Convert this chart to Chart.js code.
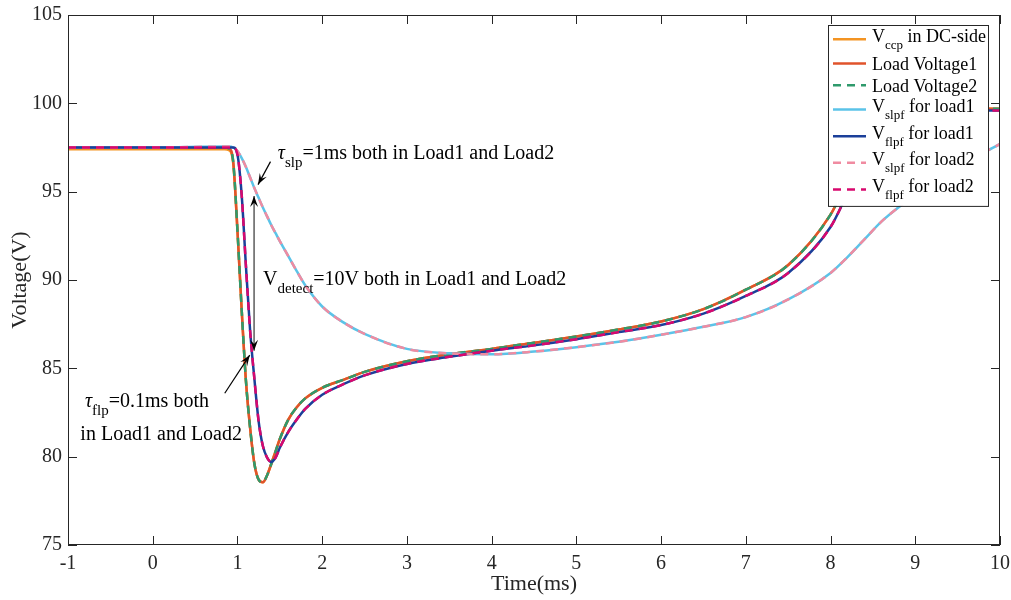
<!DOCTYPE html>
<html>
<head>
<meta charset="utf-8">
<title>DC-side voltage detection</title>
<script src="https://cdn.jsdelivr.net/npm/chart.js@4"></script>
<style>
  body { margin: 0; background: #fff; }
  canvas { display: block; }
</style>
</head>
<body>
<canvas id="voltageChart" width="1011" height="600"></canvas>
<script>
// sample times (ms)
const timeMs = [-1, 0, 0.85, 0.9, 0.95, 1.0, 1.05, 1.1, 1.15, 1.2, 1.25, 1.3, 1.35, 1.4, 1.45, 1.5, 1.6, 1.7, 1.8, 2.0,
  2.25, 2.5, 3.0, 3.5, 4.0, 4.5, 5.0, 5.5, 6.0, 6.5, 7.0, 7.5, 8.0, 8.2, 8.4, 8.6, 8.8, 9.0, 9.5, 10];

// voltages (V)
const vccp = [97.4, 97.4, 97.4, 97.35, 96.6, 92.8, 88.3, 84.3, 81.6, 79.6, 78.7, 78.55, 78.95, 79.6, 80.3, 81.0, 82.1, 82.8, 83.3, 83.9,
  84.35, 84.8, 85.4, 85.8, 86.1, 86.45, 86.8, 87.2, 87.65, 88.35, 89.45, 90.85, 93.7, 95.6, 97.4, 98.7, 99.35, 99.6, 99.7, 99.7];
const loadVoltage1 = [97.5, 97.5, 97.5, 97.45, 96.7, 92.8, 88.3, 84.3, 81.6, 79.6, 78.7, 78.55, 78.95, 79.6, 80.3, 81.0, 82.1, 82.8, 83.3, 83.9,
  84.35, 84.8, 85.4, 85.8, 86.1, 86.45, 86.8, 87.2, 87.65, 88.35, 89.45, 90.85, 93.7, 95.6, 97.4, 98.7, 99.35, 99.6, 99.7, 99.7];
const loadVoltage2 = [97.5, 97.5, 97.5, 97.45, 96.7, 92.8, 88.3, 84.3, 81.6, 79.6, 78.7, 78.55, 78.95, 79.6, 80.3, 81.0, 82.1, 82.8, 83.3, 83.9,
  84.35, 84.8, 85.4, 85.8, 86.1, 86.45, 86.8, 87.2, 87.65, 88.35, 89.45, 90.85, 93.7, 95.6, 97.4, 98.7, 99.35, 99.6, 99.7, 99.7];
const vslpfLoad1 = [97.5, 97.5, 97.55, 97.55, 97.5, 97.3, 96.9, 96.4, 95.8, 95.2, 94.65, 94.1, 93.6, 93.1, 92.65, 92.2, 91.35, 90.5, 89.7, 88.5,
  87.6, 86.95, 86.1, 85.85, 85.8, 85.95, 86.2, 86.5, 86.9, 87.35, 87.9, 88.9, 90.4, 91.3, 92.3, 93.3, 94.1, 94.8, 96.4, 97.7];
const vflpfLoad1 = [97.5, 97.5, 97.5, 97.5, 97.5, 97.1, 94.8, 90.8, 87.1, 84.4, 82.0, 80.6, 79.95, 79.7, 79.95, 80.5, 81.4, 82.1, 82.7, 83.5,
  84.1, 84.6, 85.25, 85.65, 86.0, 86.3, 86.65, 87.05, 87.45, 88.1, 89.1, 90.4, 93.0, 94.9, 96.8, 98.3, 99.1, 99.45, 99.6, 99.6];
const vslpfLoad2 = [97.5, 97.5, 97.55, 97.55, 97.5, 97.3, 96.9, 96.4, 95.8, 95.2, 94.65, 94.1, 93.6, 93.1, 92.65, 92.2, 91.35, 90.5, 89.7, 88.5,
  87.6, 86.95, 86.1, 85.85, 85.8, 85.95, 86.2, 86.5, 86.9, 87.35, 87.9, 88.9, 90.4, 91.3, 92.3, 93.3, 94.1, 94.8, 96.4, 97.7];
const vflpfLoad2 = [97.5, 97.5, 97.5, 97.5, 97.5, 97.1, 94.8, 90.8, 87.1, 84.4, 82.0, 80.6, 79.95, 79.7, 79.95, 80.5, 81.4, 82.1, 82.7, 83.5,
  84.1, 84.6, 85.25, 85.65, 86.0, 86.3, 86.65, 87.05, 87.45, 88.1, 89.1, 90.4, 93.0, 94.9, 96.8, 98.3, 99.1, 99.45, 99.6, 99.6];

const xTicks = [-1, 0, 1, 2, 3, 4, 5, 6, 7, 8, 9, 10];
const yTicks = [75, 80, 85, 90, 95, 100, 105];

// legend text: [main, subscript, rest]
const legendText = [
  ['V', 'ccp', ' in DC-side'],
  ['Load Voltage1', '', ''],
  ['Load Voltage2', '', ''],
  ['V', 'slpf', ' for load1'],
  ['V', 'flpf', ' for load1'],
  ['V', 'slpf', ' for load2'],
  ['V', 'flpf', ' for load2']
];

const SERIF = '"Liberation Serif", "Times New Roman", serif';

const series = [
  { data: vccp, color: '#F39423', dash: [] },
  { data: loadVoltage1, color: '#E0532B', dash: [] },
  { data: loadVoltage2, color: '#2F9A6C', dash: [8, 6] },
  { data: vslpfLoad1, color: '#5BC3E8', dash: [] },
  { data: vflpfLoad1, color: '#1B3F99', dash: [] },
  { data: vslpfLoad2, color: '#F08BA1', dash: [8, 6] },
  { data: vflpfLoad2, color: '#D8086E', dash: [8, 6] }
];

// notes in data coordinates; parts are [text, style]
const notes = [
  { x: 1.476, y: 96.83, parts: [['τ', 'it'], ['slp', 'sub'], ['=1ms both in Load1 and Load2', '']] },
  { x: 1.302, y: 89.72, parts: [['V', ''], ['detect', 'sub'], ['=10V both in Load1 and Load2', '']] },
  { x: -0.80, y: 82.83, parts: [['τ', 'it'], ['flp', 'sub'], ['=0.1ms both', '']] },
  { x: -0.854, y: 80.94, parts: [['in Load1 and Load2', '']] }
];
const arrows = [
  { from: [1.39, 96.7], to: [1.243, 95.4], both: false },
  { from: [1.196, 86.0], to: [1.196, 94.75], both: true },
  { from: [0.85, 83.59], to: [1.145, 85.75], both: false }
];

function richText(ctx, x, y, parts, size, subSize, subDrop) {
  let cx = x;
  parts.forEach(([txt, style]) => {
    if (style === 'sub') {
      ctx.font = subSize + 'px ' + SERIF;
      ctx.fillText(txt, cx, y + subDrop);
    } else {
      ctx.font = (style === 'it' ? 'italic ' : '') + size + 'px ' + SERIF;
      ctx.fillText(txt, cx, y);
    }
    cx += ctx.measureText(txt).width;
  });
}

function arrowHead(ctx, x1, y1, x2, y2) {
  const a = Math.atan2(y2 - y1, x2 - x1);
  const len = 11, half = 4;
  ctx.beginPath();
  ctx.moveTo(x2, y2);
  ctx.lineTo(x2 - len * Math.cos(a) + half * Math.sin(a), y2 - len * Math.sin(a) - half * Math.cos(a));
  ctx.lineTo(x2 - len * 0.6 * Math.cos(a), y2 - len * 0.6 * Math.sin(a));
  ctx.lineTo(x2 - len * Math.cos(a) - half * Math.sin(a), y2 - len * Math.sin(a) + half * Math.cos(a));
  ctx.closePath();
  ctx.fill();
}

const matlabLook = {
  id: 'matlabLook',
  afterDatasetsDraw(chart) {
    const { ctx, chartArea: ca, scales } = chart;
    const xs = scales.x, ys = scales.y;
    ctx.save();

    // axes box with inward ticks
    ctx.strokeStyle = '#262626';
    ctx.lineWidth = 1;
    ctx.strokeRect(ca.left + 0.5, ca.top + 0.5, ca.right - ca.left - 1, ca.bottom - ca.top - 1);
    ctx.beginPath();
    xTicks.forEach(v => {
      const px = Math.round(xs.getPixelForValue(v)) + 0.5;
      ctx.moveTo(px, ca.bottom); ctx.lineTo(px, ca.bottom - 9);
      ctx.moveTo(px, ca.top); ctx.lineTo(px, ca.top + 9);
    });
    yTicks.forEach(v => {
      const py = Math.round(ys.getPixelForValue(v)) + 0.5;
      ctx.moveTo(ca.left, py); ctx.lineTo(ca.left + 9, py);
      ctx.moveTo(ca.right, py); ctx.lineTo(ca.right - 9, py);
    });
    ctx.stroke();

    // text notes and arrows
    ctx.fillStyle = '#000';
    ctx.textBaseline = 'alphabetic';
    ctx.textAlign = 'left';
    notes.forEach(n => {
      richText(ctx, xs.getPixelForValue(n.x), ys.getPixelForValue(n.y), n.parts, 20, 15, 8);
    });
    arrows.forEach(a => {
      const x1 = xs.getPixelForValue(a.from[0]), y1 = ys.getPixelForValue(a.from[1]);
      const x2 = xs.getPixelForValue(a.to[0]), y2 = ys.getPixelForValue(a.to[1]);
      ctx.strokeStyle = a.both ? '#333' : '#000';
      ctx.fillStyle = '#000';
      ctx.lineWidth = 1.2;
      ctx.beginPath(); ctx.moveTo(x1, y1); ctx.lineTo(x2, y2); ctx.stroke();
      arrowHead(ctx, x1, y1, x2, y2);
      if (a.both) arrowHead(ctx, x2, y2, x1, y1);
    });

    // legend box
    const lx = 828, ly = 25, rowSub = 26.7, rowPlain = 21.7;
    let h = 0;
    legendText.forEach(t => { h += t[1] ? rowSub : rowPlain; });
    ctx.fillStyle = '#fff';
    ctx.fillRect(lx, ly, 160, h + 4);
    ctx.strokeStyle = '#262626';
    ctx.lineWidth = 1;
    ctx.strokeRect(lx + 0.5, ly + 0.5, 160, h + 4);
    let top = ly;
    legendText.forEach((t, i) => {
      const rh = t[1] ? rowSub : rowPlain;
      const base = top + (t[1] ? 16.7 : 18.3);
      const midY = top + rh / 2 + 1;
      const s = series[i];
      ctx.strokeStyle = s.color;
      ctx.lineWidth = 2.5;
      ctx.setLineDash(s.dash);
      ctx.beginPath(); ctx.moveTo(833, midY); ctx.lineTo(866, midY); ctx.stroke();
      ctx.setLineDash([]);
      ctx.fillStyle = '#000';
      richText(ctx, 872, base, [[t[0], ''], [t[1], 'sub'], [t[2], '']], 18, 13, 7);
      top += rh;
    });
    ctx.restore();
  }
};

const ctx = document.getElementById('voltageChart').getContext('2d');
new Chart(ctx, {
  type: 'line',
  data: {
    datasets: series.map((s, i) => ({
      label: legendText[i].join(''),
      data: timeMs.map((t, k) => ({ x: t, y: s.data[k] })),
      borderColor: s.color,
      backgroundColor: s.color,
      borderWidth: 2.5,
      borderDash: s.dash,
      pointRadius: 0,
      cubicInterpolationMode: 'monotone',
      fill: false,
      order: series.length - i
    }))
  },
  options: {
    responsive: false,
    animation: false,
    devicePixelRatio: 1,
    layout: { padding: { left: 0, right: 11, top: 15, bottom: 0 } },
    plugins: { legend: { display: false }, tooltip: { enabled: false } },
    scales: {
      x: {
        type: 'linear', min: -1, max: 10,
        afterFit: s => { s.height = 55; s.paddingLeft = 0; s.paddingRight = 0; },
        afterBuildTicks: s => { s.ticks = xTicks.map(v => ({ value: v })); },
        grid: { display: false, drawTicks: false },
        border: { display: false },
        ticks: { color: '#262626', font: { family: SERIF, size: 20 }, padding: 7, maxRotation: 0 },
        title: { display: true, text: 'Time(ms)', color: '#262626', font: { family: SERIF, size: 22 }, padding: { top: 0, bottom: 3 } }
      },
      y: {
        type: 'linear', min: 75, max: 105,
        afterFit: s => { s.width = 68; s.paddingTop = 0; s.paddingBottom = 0; },
        afterBuildTicks: s => { s.ticks = yTicks.map(v => ({ value: v })); },
        grid: { display: false, drawTicks: false },
        border: { display: false },
        ticks: { color: '#262626', font: { family: SERIF, size: 20 }, padding: 6 },
        title: { display: true, text: 'Voltage(V)', color: '#262626', font: { family: SERIF, size: 22 }, padding: { top: 7, bottom: 0 } }
      }
    }
  },
  plugins: [matlabLook]
});
</script>
</body>
</html>
